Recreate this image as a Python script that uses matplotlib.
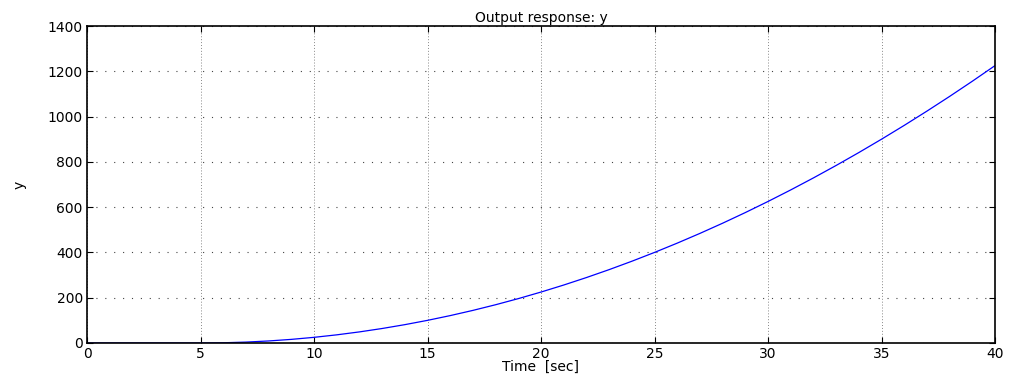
import matplotlib
matplotlib.use("Agg")
import matplotlib.pyplot as plt

# Time samples (sec) and output values
time_s = [0, 1, 2, 3, 4, 5, 6, 7, 8, 9, 10, 11, 12, 13, 14, 15, 16, 17, 18, 19, 20,
          21, 22, 23, 24, 25, 26, 27, 28, 29, 30, 31, 32, 33, 34, 35, 36, 37, 38, 39, 40]
y_out = [0, 0, 0, 0, 0, 0, 1, 4, 9, 16, 25, 36, 49, 64, 81, 100, 121, 144, 169, 196, 225,
         256, 289, 324, 361, 400, 441, 484, 529, 576, 625, 676, 729, 784, 841, 900, 961,
         1024, 1089, 1156, 1225]
x_ticks = [0, 5, 10, 15, 20, 25, 30, 35, 40]
y_ticks = [0, 200, 400, 600, 800, 1000, 1200, 1400]

plt.rcParams['font.family'] = ['DejaVu Sans']

fig = plt.figure(figsize=(10.15, 3.74), dpi=100)
ax = fig.add_axes([87/1015, 31/374, (995-87)/1015, (343-26)/374])
ax.plot(time_s, y_out, color='#0000ff', linewidth=0.9)
ax.set_xlim(0, 40)
ax.set_ylim(0, 1400)
ax.set_xticks(x_ticks)
ax.set_yticks(y_ticks)
ax.tick_params(direction='in', top=True, right=True, labelsize=10, length=4, width=0.8, pad=3)
ax.xaxis.grid(True, linestyle=(0, (1, 2)), color='#888888', linewidth=0.7)
ax.yaxis.grid(True, linestyle=(0, (1, 7)), color='#444444', linewidth=0.8)
for s in ax.spines.values():
    s.set_linewidth(1.2)
ax.set_title('Output response: y', fontsize=10, pad=3)
ax.set_xlabel('Time  [sec]', fontsize=10, labelpad=-1)
ax.set_ylabel('y', fontsize=10)
ax.yaxis.set_label_coords(-0.067, 0.5)
fig.savefig('out.png', dpi=100)
